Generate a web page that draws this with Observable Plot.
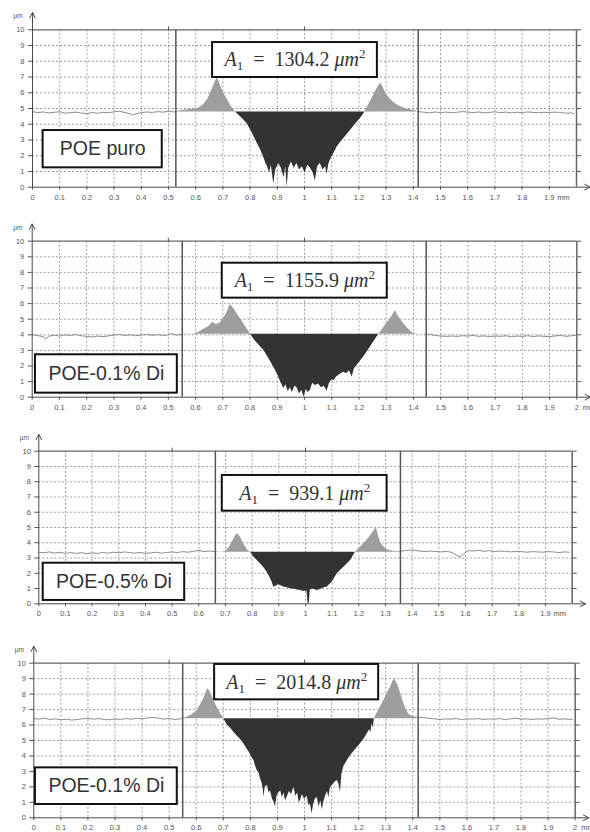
<!DOCTYPE html>
<html>
<head>
<meta charset="utf-8">
<script src="https://cdn.jsdelivr.net/npm/d3@7"></script>
<script src="https://cdn.jsdelivr.net/npm/@observablehq/plot@0.6"></script>
<style>
  html, body { margin: 0; padding: 0; background: #fff; overflow: hidden; }
  #figure { position: relative; width: 590px; height: 832px; overflow: hidden; background: #fff; }
  #figure > div { position: absolute; left: 0; width: 590px; }
</style>
</head>
<body>
<div id="figure"></div>
<script>
// Sample names and wear-track cross-section areas (µm²)
const sampleNames = ["POE puro", "POE-0.1% Di", "POE-0.5% Di", "POE-0.1% Di"];
const trackAreas = [1304.2, 1155.9, 939.1, 2014.8];

// Surface reference level of each profile (µm)
const surfaceLevels = [4.77, 4.03, 3.37, 6.40];

// Evaluation window of each profile (mm)
const windowStart = [0.527, 0.551, 0.662, 0.550];
const windowEnd = [1.418, 1.447, 1.356, 1.420];

// Axis ticks
const xTickValues = [0, 0.1, 0.2, 0.3, 0.4, 0.5, 0.6, 0.7, 0.8, 0.9, 1, 1.1, 1.2, 1.3, 1.4, 1.5, 1.6, 1.7, 1.8, 1.9, 2];
const xTickLabels = ["0", "0.1", "0.2", "0.3", "0.4", "0.5", "0.6", "0.7", "0.8", "0.9", "1", "1.1", "1.2", "1.3", "1.4", "1.5", "1.6", "1.7", "1.8", "1.9", "2"];
const yTickValues = [0, 1, 2, 3, 4, 5, 6, 7, 8, 9, 10];
const xUnit = "mm";
const yUnit = "µm";

// Surface profiles: [position (mm), height (µm)]
const profile1 = [
  [0,4.80],[0.02,4.74],[0.04,4.78],[0.06,4.72],[0.08,4.76],[0.10,4.79],[0.12,4.70],[0.14,4.74],[0.16,4.77],[0.18,4.71],
  [0.20,4.68],[0.22,4.74],[0.24,4.70],[0.26,4.76],[0.28,4.73],[0.30,4.79],[0.32,4.82],[0.34,4.74],[0.36,4.66],[0.37,4.58],
  [0.38,4.66],[0.40,4.74],[0.42,4.78],[0.44,4.75],[0.46,4.80],[0.48,4.77],[0.50,4.82],[0.52,4.78],[0.527,4.80],
  [0.55,4.88],[0.57,4.92],[0.59,4.96],[0.61,5.02],[0.63,5.25],[0.645,5.6],[0.66,6.2],[0.672,6.7],[0.679,6.95],[0.688,6.6],
  [0.70,6.1],[0.715,5.6],[0.73,5.15],[0.746,4.77],
  [0.76,4.55],[0.775,4.3],[0.789,4.03],[0.80,3.7],[0.812,3.3],[0.826,2.8],[0.838,2.4],[0.85,1.9],[0.858,1.5],[0.864,1.3],
  [0.872,0.9],[0.878,1.4],[0.887,0.2],[0.894,1.1],[0.905,1.5],[0.915,1.2],[0.925,0.6],[0.931,1.3],[0.936,0.0],[0.942,1.2],
  [0.952,1.6],[0.962,1.2],[0.972,1.5],[0.982,1.1],[0.992,1.3],[1.002,0.9],[1.012,1.4],[1.022,1.2],[1.032,0.9],[1.040,0.4],
  [1.048,1.3],[1.058,1.5],[1.068,1.1],[1.078,1.3],[1.083,0.8],[1.09,1.5],[1.10,1.9],[1.11,2.2],[1.12,2.55],[1.135,2.9],
  [1.15,3.2],[1.169,3.6],[1.185,3.95],[1.20,4.25],[1.212,4.5],[1.222,4.77],
  [1.235,5.2],[1.25,5.7],[1.265,6.2],[1.275,6.5],[1.282,6.6],[1.29,6.3],[1.30,5.9],[1.315,5.6],[1.33,5.35],[1.35,5.15],
  [1.37,5.0],[1.39,4.92],[1.405,4.85],[1.418,4.80],
  [1.44,4.76],[1.46,4.72],[1.48,4.78],[1.50,4.74],[1.52,4.77],[1.54,4.73],[1.56,4.76],[1.58,4.80],[1.60,4.77],[1.62,4.74],
  [1.64,4.78],[1.66,4.72],[1.68,4.75],[1.70,4.79],[1.72,4.74],[1.74,4.77],[1.76,4.72],[1.78,4.76],[1.80,4.74],[1.82,4.78],
  [1.84,4.75],[1.86,4.73],[1.88,4.76],[1.90,4.74],[1.92,4.77],[1.94,4.75],[1.96,4.70],[1.98,4.72],[1.99,4.68]
];
const profile2 = [
  [0,4.0],[0.02,3.95],[0.04,3.88],[0.05,3.74],[0.06,3.9],[0.08,3.98],[0.10,3.92],[0.12,4.0],[0.14,3.95],[0.16,4.02],
  [0.18,3.94],[0.20,3.9],[0.22,3.86],[0.24,3.92],[0.26,3.88],[0.28,3.93],[0.30,3.98],[0.32,4.02],[0.34,3.96],[0.36,4.0],
  [0.38,3.94],[0.40,3.98],[0.42,4.02],[0.44,3.97],[0.46,4.01],[0.48,3.96],[0.50,4.0],[0.51,4.08],[0.53,3.98],[0.551,4.02],
  [0.57,4.05],[0.59,4.03],[0.61,4.15],[0.63,4.35],[0.65,4.55],[0.66,4.75],[0.667,4.8],[0.675,4.65],[0.69,4.75],[0.70,5.0],
  [0.712,5.3],[0.722,5.7],[0.728,5.95],[0.735,5.8],[0.745,5.55],[0.76,5.15],[0.775,4.75],[0.79,4.35],[0.802,4.03],
  [0.815,3.7],[0.83,3.4],[0.851,3.0],[0.865,2.6],[0.875,2.3],[0.887,1.92],[0.90,1.5],[0.912,1.0],[0.924,0.55],[0.932,0.8],
  [0.94,0.35],[0.948,0.6],[0.955,0.3],[0.965,0.7],[0.973,0.6],[0.982,0.2],[0.99,0.45],[0.998,0.0],[1.006,0.5],[1.014,0.3],
  [1.022,0.45],[1.03,0.9],[1.04,0.75],[1.052,0.85],[1.062,0.6],[1.072,0.7],[1.083,0.4],[1.092,0.9],[1.10,1.1],[1.108,1.07],
  [1.118,1.3],[1.13,1.45],[1.144,1.6],[1.155,1.5],[1.165,1.7],[1.175,1.3],[1.183,1.8],[1.193,2.05],[1.205,2.3],[1.218,2.6],
  [1.23,2.9],[1.245,3.3],[1.26,3.7],[1.273,4.03],
  [1.285,4.3],[1.30,4.7],[1.315,5.0],[1.325,5.3],[1.334,5.56],[1.342,5.25],[1.352,5.0],[1.365,4.7],[1.38,4.4],[1.395,4.15],
  [1.41,4.05],[1.43,4.04],[1.447,4.06],
  [1.46,4.02],[1.48,3.96],[1.50,3.92],[1.52,3.9],[1.54,3.92],[1.56,3.9],[1.58,3.94],[1.60,3.92],[1.62,3.96],[1.64,3.9],
  [1.66,3.93],[1.68,3.88],[1.70,3.92],[1.72,3.9],[1.74,3.94],[1.76,3.87],[1.78,3.92],[1.80,3.9],[1.82,3.94],[1.84,3.89],
  [1.86,3.93],[1.88,3.9],[1.90,3.88],[1.92,3.93],[1.94,3.96],[1.96,3.9],[1.98,3.94],[1.995,3.96]
];
const profile3 = [
  [0,3.38],[0.02,3.34],[0.04,3.4],[0.06,3.32],[0.08,3.38],[0.10,3.3],[0.12,3.36],[0.14,3.3],[0.16,3.35],[0.18,3.28],
  [0.20,3.34],[0.22,3.3],[0.24,3.36],[0.26,3.32],[0.28,3.38],[0.30,3.34],[0.32,3.4],[0.34,3.36],[0.36,3.32],[0.38,3.36],
  [0.40,3.3],[0.42,3.34],[0.44,3.38],[0.46,3.32],[0.48,3.36],[0.50,3.4],[0.52,3.36],[0.54,3.42],[0.56,3.38],[0.58,3.44],
  [0.60,3.5],[0.62,3.42],[0.64,3.46],[0.662,3.42],
  [0.68,3.38],[0.70,3.42],[0.715,3.7],[0.725,4.04],[0.737,4.45],[0.746,4.6],[0.755,4.4],[0.769,3.9],[0.782,3.55],[0.794,3.37],
  [0.805,3.1],[0.818,2.85],[0.831,2.62],[0.845,2.35],[0.856,2.07],[0.866,1.75],[0.875,1.42],[0.881,1.09],[0.89,1.15],[0.898,1.25],
  [0.906,1.2],[0.918,1.1],[0.93,1.05],[0.944,0.98],[0.958,0.95],[0.97,0.9],[0.981,0.87],[0.995,0.8],[1.005,0.85],[1.01,0.0],
  [1.014,0.0],[1.018,0.9],[1.03,0.95],[1.044,0.87],[1.058,0.95],[1.07,1.05],[1.081,1.09],[1.09,1.25],[1.10,1.42],[1.11,1.7],
  [1.119,1.97],[1.132,2.2],[1.144,2.4],[1.157,2.62],[1.169,2.84],[1.178,3.1],[1.187,3.37],
  [1.20,3.6],[1.219,3.93],[1.232,4.2],[1.244,4.48],[1.256,4.75],[1.266,5.0],[1.273,4.5],[1.281,4.04],[1.29,3.8],[1.30,3.6],
  [1.315,3.5],[1.33,3.45],[1.345,3.42],[1.356,3.44],
  [1.37,3.48],[1.39,3.52],[1.41,3.5],[1.43,3.46],[1.45,3.42],[1.47,3.46],[1.49,3.42],[1.51,3.4],[1.53,3.44],[1.55,3.36],
  [1.565,3.2],[1.58,3.06],[1.595,3.3],[1.61,3.48],[1.63,3.46],[1.65,3.5],[1.67,3.44],[1.69,3.48],[1.71,3.42],[1.73,3.46],
  [1.75,3.44],[1.77,3.4],[1.79,3.44],[1.81,3.42],[1.83,3.38],[1.85,3.42],[1.87,3.4],[1.89,3.38],[1.91,3.42],[1.93,3.4],
  [1.95,3.36],[1.97,3.4],[1.99,3.38]
];
const profile4 = [
  [0,6.42],[0.02,6.38],[0.04,6.44],[0.06,6.36],[0.08,6.4],[0.10,6.34],[0.12,6.38],[0.14,6.32],[0.16,6.36],[0.18,6.4],
  [0.20,6.44],[0.22,6.38],[0.24,6.42],[0.26,6.36],[0.28,6.34],[0.30,6.4],[0.32,6.36],[0.34,6.42],[0.36,6.38],[0.38,6.44],
  [0.40,6.4],[0.42,6.46],[0.44,6.5],[0.46,6.44],[0.48,6.38],[0.50,6.44],[0.52,6.36],[0.55,6.42],
  [0.565,6.5],[0.579,6.6],[0.59,6.75],[0.604,6.94],[0.615,7.3],[0.628,7.7],[0.636,8.1],[0.643,8.34],[0.65,8.2],[0.66,7.8],
  [0.668,7.5],[0.677,7.15],[0.69,6.75],[0.702,6.4],
  [0.715,6.0],[0.727,5.8],[0.739,5.54],[0.75,5.3],[0.762,5.1],[0.776,4.79],[0.786,4.5],[0.797,4.2],[0.806,3.9],[0.813,3.7],
  [0.82,3.3],[0.825,3.08],[0.832,2.9],[0.838,2.5],[0.844,2.2],[0.848,1.8],[0.85,1.33],[0.855,2.0],[0.863,2.1],[0.869,1.6],
  [0.874,1.75],[0.882,1.2],[0.888,1.0],[0.893,0.69],[0.898,1.4],[0.905,1.6],[0.912,1.75],[0.918,1.3],[0.924,1.6],[0.93,1.1],
  [0.936,1.33],[0.944,1.7],[0.952,1.5],[0.961,1.97],[0.968,1.4],[0.975,1.6],[0.98,1.0],[0.985,1.1],[0.992,1.5],[1.0,1.2],
  [1.01,1.4],[1.016,0.8],[1.022,0.9],[1.028,0.26],[1.034,0.9],[1.04,1.2],[1.047,1.33],[1.054,0.7],[1.06,1.1],[1.066,0.5],
  [1.071,1.0],[1.078,1.4],[1.085,1.7],[1.09,1.3],[1.096,1.97],[1.104,2.1],[1.112,2.3],[1.121,2.41],[1.127,2.2],[1.133,1.66],
  [1.138,2.8],[1.145,3.3],[1.155,3.6],[1.165,3.9],[1.176,4.14],[1.19,4.45],[1.207,4.79],[1.22,5.1],[1.232,5.43],[1.24,5.7],
  [1.245,5.5],[1.25,6.1],[1.254,5.8],[1.258,6.4],
  [1.266,6.7],[1.274,6.94],[1.287,7.4],[1.299,7.8],[1.31,8.2],[1.318,8.45],[1.326,8.8],[1.332,8.98],[1.34,8.75],[1.349,8.4],
  [1.358,7.9],[1.367,7.37],[1.376,7.0],[1.385,6.7],[1.40,6.55],[1.416,6.5],[1.42,6.5],
  [1.44,6.48],[1.46,6.44],[1.48,6.4],[1.50,6.36],[1.52,6.4],[1.54,6.38],[1.56,6.42],[1.58,6.36],[1.60,6.4],[1.62,6.38],
  [1.64,6.42],[1.66,6.36],[1.68,6.4],[1.70,6.38],[1.72,6.42],[1.74,6.36],[1.76,6.4],[1.78,6.44],[1.80,6.38],[1.82,6.4],
  [1.84,6.36],[1.86,6.4],[1.88,6.38],[1.90,6.42],[1.92,6.46],[1.94,6.38],[1.96,6.4],[1.98,6.36],[1.99,6.38]
];
const profiles = [profile1, profile2, profile3, profile4];

// Panel geometry (pixels) and annotation boxes ([x1, x2] mm, [y1, y2] µm)
const panelLayout = [
  { top: 0,   height: 208, margin: [29.3, 14, 21.3, 32],   lastTick: 1.9, unitDx: 8,
    areaBox: [0.662, 1.268, 6.97, 9.19], nameBox: [0.039, 0.477, 1.23, 3.60] },
  { top: 210, height: 208, margin: [30.7, 13.7, 21.3, 31.7], lastTick: 2, unitDx: 6,
    areaBox: [0.698, 1.304, 6.35, 8.59], nameBox: [0.012, 0.533, 0.26, 2.72] },
  { top: 420, height: 205, margin: [30.7, 18.3, 21.7, 38.3], lastTick: 1.9, unitDx: 8,
    areaBox: [0.688, 1.306, 6.07, 8.41], nameBox: [0.0165, 0.547, 0.22, 2.66] },
  { top: 625, height: 207, margin: [37.7, 15.3, 14.7, 33.3], lastTick: 2, unitDx: 6,
    areaBox: [0.668, 1.274, 7.63, 9.92], nameBox: [0.006, 0.53, 0.86, 3.23] }
];

// Axis arrow extents and colours
const axisArrowTop = 11.1;
const axisArrowRight = 2.05;
const ink = "#4a4a4a";
const gridColor = "#9a9a9a";
const traceColor = "#8c8c8c";
const peakFill = "#9e9e9e";
const wearFill = "#333333";

const figure = document.getElementById("figure");
const labelOf = new Map(xTickValues.map((v, i) => [v, xTickLabels[i]]));

function drawPanel(i) {
  const layout = panelLayout[i];
  const profile = profiles[i];
  const level = surfaceLevels[i];
  const L = windowStart[i], R = windowEnd[i];
  const inside = profile.filter(d => d[0] >= L && d[0] <= R);
  const leftTrace = profile.filter(d => d[0] <= L);
  const rightTrace = profile.filter(d => d[0] >= R);
  const [mt, mr, mb, ml] = layout.margin;
  const labelTicks = xTickValues.filter(v => v <= layout.lastTick + 1e-9);
  const [ax1, ax2, ay1, ay2] = layout.areaBox;
  const [nx1, nx2, ny1, ny2] = layout.nameBox;
  const areaText = `A1 = ${trackAreas[i].toFixed(1)} μm2`;

  const svg = Plot.plot({
    width: 590,
    height: layout.height,
    marginTop: mt, marginRight: mr, marginBottom: mb, marginLeft: ml,
    x: { domain: [0, 2] },
    y: { domain: [0, 10] },
    style: { fontFamily: "'Liberation Sans', Arial, sans-serif", fontSize: "7.5px", color: "#555", background: "transparent", overflow: "visible" },
    marks: [
      Plot.gridX(xTickValues.filter(v => v > 0 && v < 2), { stroke: gridColor, strokeOpacity: 1, strokeDasharray: "2,2" }),
      Plot.gridY(yTickValues.filter(v => v > 0 && v < 10), { stroke: gridColor, strokeOpacity: 1, strokeDasharray: "2,2" }),

      // material above and below the reference level inside the window
      Plot.areaY(inside, { x: d => d[0], y1: () => level, y2: d => Math.max(d[1], level), fill: peakFill }),
      Plot.areaY(inside, { x: d => d[0], y1: () => level, y2: d => Math.min(d[1], level), fill: wearFill }),

      // raw trace outside the window
      Plot.line(leftTrace, { x: d => d[0], y: d => d[1], stroke: traceColor, strokeWidth: 1 }),
      Plot.line(rightTrace, { x: d => d[0], y: d => d[1], stroke: traceColor, strokeWidth: 1 }),

      // window limits and frame
      Plot.ruleX([L, R], { stroke: "#555", strokeWidth: 1.5 }),
      Plot.ruleX([2], { stroke: "#666", strokeWidth: 1.5 }),
      Plot.ruleY([10], { stroke: "#666", strokeWidth: 1.3 }),

      // axes
      Plot.axisX({ ticks: labelTicks, tickFormat: d => labelOf.get(d), tickSize: 3, tickPadding: 4, label: null }),
      Plot.axisX({ anchor: "top", ticks: [0.5, 1], tickFormat: () => "", tickSize: 4, label: null }),
      Plot.axisY({ ticks: yTickValues, tickSize: 4, tickPadding: 4, label: null }),
      Plot.axisY({ anchor: "right", ticks: yTickValues.filter(v => v > 0), tickFormat: () => "", tickSize: 4, label: null }),
      Plot.arrow([{ x1: 0, y1: 0, x2: 0, y2: axisArrowTop }], { x1: "x1", y1: "y1", x2: "x2", y2: "y2", stroke: ink, strokeWidth: 1, headLength: 9, headAngle: 55 }),
      Plot.arrow([{ x1: 0, y1: 0, x2: axisArrowRight, y2: 0 }], { x1: "x1", y1: "y1", x2: "x2", y2: "y2", stroke: ink, strokeWidth: 1, headLength: 9, headAngle: 55 }),
      Plot.text([xUnit], { x: () => layout.lastTick, y: () => 0, text: d => d, textAnchor: "start", lineAnchor: "top", dx: layout.unitDx, dy: 7, fill: "#555" }),
      Plot.text([yUnit], { frameAnchor: "top-left", text: d => d, textAnchor: "start", lineAnchor: "middle", dx: -19, dy: -13.5, fontSize: 6.5, fill: "#555" }),

      // annotation boxes
      Plot.rect([{ x1: ax1, x2: ax2, y1: ay1, y2: ay2 }], { x1: "x1", x2: "x2", y1: "y1", y2: "y2", fill: "white", stroke: "#111", strokeWidth: 2 }),
      Plot.text([areaText], { x: () => (ax1 + ax2) / 2, y: () => (ay1 + ay2) / 2, text: d => d, fontFamily: "'Liberation Serif', 'DejaVu Serif', serif", fontSize: 20, fill: "#333" }),
      Plot.rect([{ x1: nx1, x2: nx2, y1: ny1, y2: ny2 }], { x1: "x1", x2: "x2", y1: "y1", y2: "y2", fill: "white", stroke: "#111", strokeWidth: 2 }),
      Plot.text([sampleNames[i]], { x: () => (nx1 + nx2) / 2, y: () => (ny1 + ny2) / 2, text: d => d, fontFamily: "'Liberation Sans', Arial, sans-serif", fontSize: 19.5, fill: "#333" })
    ]
  });

  // italic symbols with subscript / superscript for the area label
  d3.select(svg).selectAll("text")
    .filter(function () { return this.textContent === areaText; })
    .each(function () {
      const t = d3.select(this).text(null);
      t.append("tspan").attr("font-style", "italic").text("A");
      t.append("tspan").attr("font-size", 13).attr("dy", 4).text("1");
      t.append("tspan").attr("dy", -4).text(`\u2002=\u2002${trackAreas[i].toFixed(1)} `);
      t.append("tspan").attr("font-style", "italic").text("μm");
      t.append("tspan").attr("font-size", 13).attr("dy", -8).text("2");
    });

  const holder = document.createElement("div");
  holder.style.top = layout.top + "px";
  holder.appendChild(svg);
  figure.appendChild(holder);
}

panelLayout.forEach((_, i) => drawPanel(i));
</script>
</body>
</html>
